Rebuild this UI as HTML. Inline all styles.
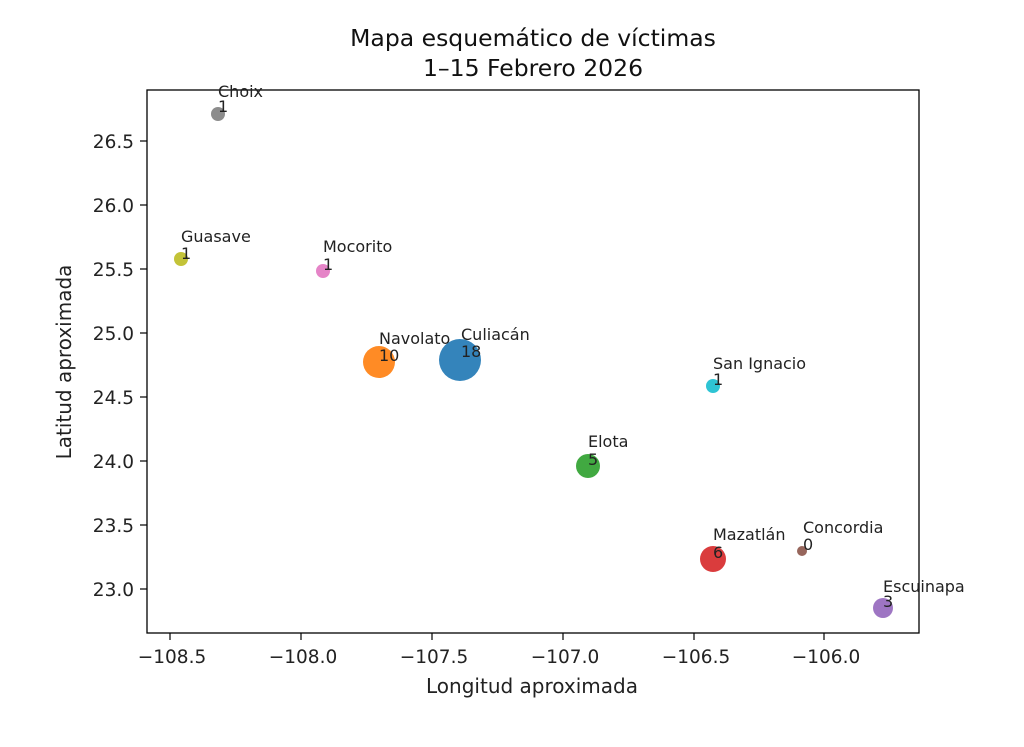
<!DOCTYPE html>
<html><head><meta charset="utf-8"><style>body{margin:0;background:#fff}</style></head><body>
<svg width="1024" height="742" xmlns="http://www.w3.org/2000/svg" font-family="DejaVu Sans, Liberation Sans, sans-serif">
<rect width="1024" height="742" fill="#fff"/>
<text x="533" y="46" font-size="23.5" text-anchor="middle" fill="#111">Mapa esquemático de víctimas</text>
<text x="533" y="76" font-size="23.5" text-anchor="middle" fill="#111">1–15 Febrero 2026</text>
<rect x="147" y="90" width="772" height="543" fill="none" stroke="#000" stroke-width="1.3"/>
<g stroke="#000" stroke-width="1.2">
<line x1="170" y1="633" x2="170" y2="640"/><line x1="301" y1="633" x2="301" y2="640"/><line x1="432" y1="633" x2="432" y2="640"/><line x1="563" y1="633" x2="563" y2="640"/><line x1="694" y1="633" x2="694" y2="640"/><line x1="824" y1="633" x2="824" y2="640"/>
<line x1="140" y1="141" x2="147" y2="141"/><line x1="140" y1="205" x2="147" y2="205"/><line x1="140" y1="269" x2="147" y2="269"/><line x1="140" y1="333" x2="147" y2="333"/><line x1="140" y1="397" x2="147" y2="397"/><line x1="140" y1="461" x2="147" y2="461"/><line x1="140" y1="525" x2="147" y2="525"/><line x1="140" y1="589" x2="147" y2="589"/>
</g>
<g font-size="18.5" fill="#222" text-anchor="middle">
<text x="172" y="663">−108.5</text><text x="303" y="663">−108.0</text><text x="434" y="663">−107.5</text><text x="565" y="663">−107.0</text><text x="696" y="663">−106.5</text><text x="826" y="663">−106.0</text>
</g>
<g font-size="18.5" fill="#222" text-anchor="end">
<text x="134" y="148">26.5</text><text x="134" y="212">26.0</text><text x="134" y="276">25.5</text><text x="134" y="340">25.0</text><text x="134" y="404">24.5</text><text x="134" y="468">24.0</text><text x="134" y="532">23.5</text><text x="134" y="596">23.0</text>
</g>
<text x="532" y="693" font-size="20" text-anchor="middle" fill="#222">Longitud aproximada</text>
<text transform="translate(71,362) rotate(-90)" font-size="20" text-anchor="middle" fill="#222">Latitud aproximada</text>
<g opacity="0.9">
<circle cx="218" cy="114" r="7" fill="#7f7f7f"/>
<circle cx="181" cy="259" r="7" fill="#bcbd22"/>
<circle cx="323" cy="271" r="7" fill="#e377c2"/>
<circle cx="379" cy="362" r="16" fill="#ff7f0e"/>
<circle cx="460" cy="360" r="21" fill="#1f77b4"/>
<circle cx="713" cy="386" r="7" fill="#17becf"/>
<circle cx="588" cy="466" r="12" fill="#2ca02c"/>
<circle cx="713" cy="559" r="13" fill="#d62728"/>
<circle cx="802" cy="551" r="5" fill="#8c564b"/>
<circle cx="883" cy="608" r="10" fill="#9467bd"/>
</g>
<g font-size="16" fill="#222">
<text x="218" y="97">Choix</text><text x="218" y="112">1</text>
<text x="181" y="242">Guasave</text><text x="181" y="259">1</text>
<text x="323" y="252">Mocorito</text><text x="323" y="270">1</text>
<text x="379" y="344">Navolato</text><text x="379" y="361">10</text>
<text x="461" y="340">Culiacán</text><text x="461" y="357">18</text>
<text x="713" y="369">San Ignacio</text><text x="713" y="385">1</text>
<text x="588" y="447">Elota</text><text x="588" y="465">5</text>
<text x="713" y="540">Mazatlán</text><text x="713" y="558">6</text>
<text x="803" y="533">Concordia</text><text x="803" y="550">0</text>
<text x="883" y="592">Escuinapa</text><text x="883" y="607">3</text>
</g>
</svg>
</body></html>
